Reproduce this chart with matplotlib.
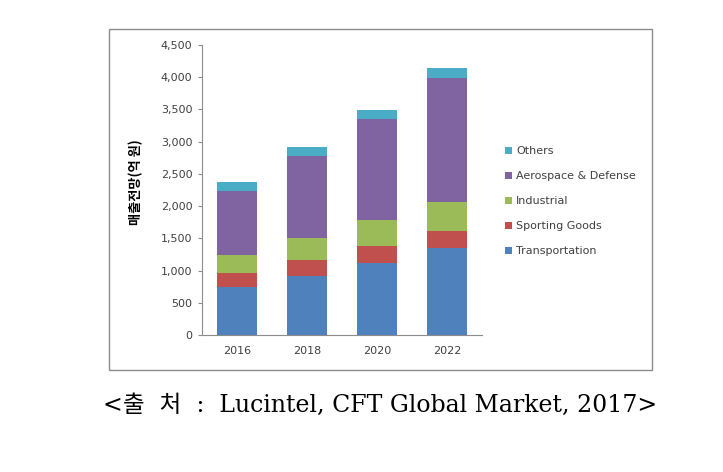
import matplotlib
matplotlib.use("Agg")
import matplotlib.pyplot as plt
from matplotlib.patches import Rectangle
import numpy as np

years = ["2016", "2018", "2020", "2022"]
series_names = ["Transportation", "Sporting Goods", "Industrial", "Aerospace & Defense", "Others"]
transportation = [740, 920, 1110, 1355]
sporting_goods = [215, 245, 270, 265]
industrial = [285, 345, 405, 450]
aerospace = [1000, 1275, 1565, 1915]
others = [130, 125, 140, 155]
colors = ["#4F81BD", "#C0504D", "#9BBB59", "#8064A2", "#4BACC6"]
yticks = [0, 500, 1000, 1500, 2000, 2500, 3000, 3500, 4000, 4500]

plt.rcParams['font.family'] = ['DejaVu Sans', 'Noto Sans CJK KR']

fig = plt.figure(figsize=(7.23, 4.72), dpi=100)
fig.patch.set_facecolor("white")

# outer chart box
fig.patches.append(Rectangle((109/723, 1 - 370/472), 543/723, 341/472,
                             transform=fig.transFigure, fill=False,
                             edgecolor="#8c8c8c", linewidth=1.0))

ax = fig.add_axes([202/723, 1 - 335/472, 280/723, 290/472])
x = np.arange(len(years))
bottom = np.zeros(len(years))
data = [transportation, sporting_goods, industrial, aerospace, others]
handles = []
for name, vals, c in zip(series_names, data, colors):
    h = ax.bar(x, vals, width=0.57, bottom=bottom, color=c, label=name)
    handles.append(h)
    bottom += np.array(vals)

ax.set_xlim(-0.5, 3.5)
ax.set_ylim(0, 4500)
ax.set_yticks(yticks)
ax.set_yticklabels([f"{v:,}" for v in yticks], fontsize=8, color="#404040")
ax.set_xticks(x)
ax.set_xticklabels(years, fontsize=8, color="#404040")
ax.tick_params(axis='x', length=0, pad=8)
ax.tick_params(axis='y', length=3, color="#8c8c8c", pad=4)
for s in ["top", "right"]:
    ax.spines[s].set_visible(False)
for s in ["left", "bottom"]:
    ax.spines[s].set_color("#8c8c8c")
ax.set_ylabel("매출전망(억 원)", fontsize=9.5, fontweight="bold",
              family=['Noto Sans CJK KR', 'DejaVu Sans'])
ax.yaxis.set_label_coords(-0.21, 0.528)

leg = fig.legend(handles[::-1], series_names[::-1], loc="upper left",
                 bbox_to_anchor=(495/723, 1 - 136/472), frameon=False,
                 fontsize=8, handlelength=0.6, handleheight=0.6,
                 handletextpad=0.4, labelspacing=1.35, labelcolor="#404040")

fig.text(380/723, 1 - 405/472, "<출  처  :  Lucintel, CFT Global Market, 2017>",
         ha="center", va="center", fontsize=17,
         family=['DejaVu Serif', 'Noto Sans CJK KR'])

fig.savefig("out.png", dpi=100)
